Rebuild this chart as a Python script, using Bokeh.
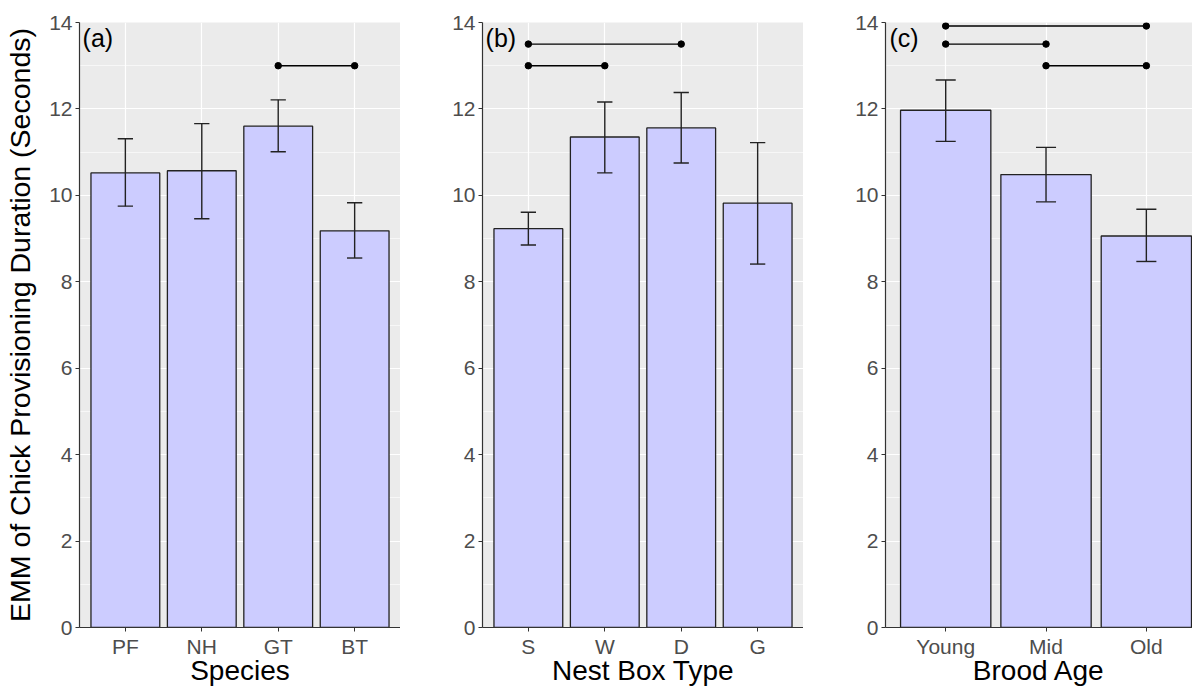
from bokeh.plotting import figure
from bokeh.layouts import row
from bokeh.models import Range1d, FixedTicker, Label, ColumnDataSource
from bokeh.embed import file_html
from bokeh.resources import INLINE

# ---- data ----
species = ["PF", "NH", "GT", "BT"]
species_emm = [10.52, 10.57, 11.60, 9.18]
species_lo = [9.75, 9.46, 11.01, 8.55]
species_hi = [11.31, 11.66, 12.21, 9.83]
species_sig = [("GT", "BT", 13.0)]

nestbox = ["S", "W", "D", "G"]
nestbox_emm = [9.23, 11.35, 11.56, 9.82]
nestbox_lo = [8.85, 10.52, 10.75, 8.41]
nestbox_hi = [9.61, 12.16, 12.38, 11.22]
nestbox_sig = [("S", "W", 13.0), ("S", "D", 13.5)]

brood = ["Young", "Mid", "Old"]
brood_emm = [11.97, 10.48, 9.06]
brood_lo = [11.25, 9.85, 8.47]
brood_hi = [12.67, 11.11, 9.68]
brood_sig = [("Mid", "Old", 13.0), ("Young", "Mid", 13.5), ("Young", "Old", 13.92)]

y_ticks = [0, 2, 4, 6, 8, 10, 12, 14]

FONT = "Liberation Sans"
BAR_FILL = "#CCCCFF"
PANEL_BG = "#EBEBEB"


def make_panel(cats, emm, lo, hi, sig, xlabel, tag, width, left_border, x_end=None, ylabel=None):
    n = len(cats)
    xs = list(range(1, n + 1))
    pos = {c: i + 1 for i, c in enumerate(cats)}
    end = x_end if x_end is not None else n + 0.6
    p = figure(width=width, height=688, x_range=Range1d(0.4, end), y_range=Range1d(0, 14),
               output_backend="svg", toolbar_location=None,
               min_border_left=left_border, min_border_right=0,
               min_border_top=22, min_border_bottom=60)
    p.outline_line_color = None
    p.background_fill_color = PANEL_BG
    p.border_fill_color = "white"

    # grids
    p.xgrid.ticker = FixedTicker(ticks=xs)
    p.ygrid.ticker = FixedTicker(ticks=y_ticks, minor_ticks=[1, 3, 5, 7, 9, 11, 13])
    for g in (p.xgrid, p.ygrid):
        g.grid_line_color = "white"
        g.grid_line_width = 1.2
    p.ygrid.minor_grid_line_color = "white"
    p.ygrid.minor_grid_line_width = 0.6

    # axes
    p.xaxis.ticker = FixedTicker(ticks=xs)
    p.xaxis.major_label_overrides = {x: c for x, c in zip(xs, cats)}
    p.yaxis.ticker = FixedTicker(ticks=y_ticks)
    for ax in (p.xaxis, p.yaxis):
        ax.axis_line_color = "#333333"
        ax.axis_line_width = 1.2
        ax.major_tick_line_color = "#333333"
        ax.major_tick_in = 0
        ax.major_tick_out = 4
        ax.minor_tick_line_color = None
        ax.major_label_text_font = FONT
        ax.major_label_text_font_size = "21px"
        ax.major_label_text_color = "#4D4D4D"
        ax.axis_label_text_font = FONT
        ax.axis_label_text_font_size = "28px"
        ax.axis_label_text_font_style = "normal"
        ax.axis_label_text_color = "black"
    p.xaxis.axis_label = xlabel
    p.xaxis.major_label_standoff = 3
    p.xaxis.axis_label_standoff = -6
    p.yaxis.major_label_standoff = 3
    if ylabel:
        p.yaxis.axis_label = ylabel
        p.yaxis.axis_label_text_font_size = "28.5px"
        p.yaxis.axis_label_standoff = 10

    src = ColumnDataSource(dict(x=xs, top=emm, lo=lo, hi=hi))
    p.vbar(x="x", top="top", width=0.9, bottom=0, source=src,
           fill_color=BAR_FILL, line_color="#222222", line_width=1.3)
    # error bars
    p.segment(x0="x", x1="x", y0="lo", y1="hi", source=src, line_color="#222222", line_width=1.4)
    caps = ColumnDataSource(dict(x0=[x - 0.1 for x in xs], x1=[x + 0.1 for x in xs], lo=lo, hi=hi))
    p.segment(x0="x0", x1="x1", y0="lo", y1="lo", source=caps, line_color="#222222", line_width=1.4)
    p.segment(x0="x0", x1="x1", y0="hi", y1="hi", source=caps, line_color="#222222", line_width=1.4)

    # significance lines
    sx0 = [pos[a] for a, b, y in sig]
    sx1 = [pos[b] for a, b, y in sig]
    sy = [y for a, b, y in sig]
    p.segment(x0=sx0, x1=sx1, y0=sy, y1=sy, line_color="black", line_width=1.4)
    p.scatter(x=sx0 + sx1, y=sy + sy, size=6.5, fill_color="black", line_color="black")

    p.add_layout(Label(x=0.44, y=13.97, text=tag,
                       text_font=FONT, text_font_size="25px", text_color="black",
                       text_baseline="top", text_align="left"))
    return p


pa = make_panel(species, species_emm, species_lo, species_hi, species_sig, "Species", "(a)",
                400, 79, ylabel="EMM of Chick Provisioning Duration (Seconds)")
pb = make_panel(nestbox, nestbox_emm, nestbox_lo, nestbox_hi, nestbox_sig, "Nest Box Type", "(b)",
                403, 82)
pc = make_panel(brood, brood_emm, brood_lo, brood_hi, brood_sig, "Brood Age", "(c)",
                389, 82, x_end=3.46)

layout = row(pa, pb, pc, spacing=0)
open("out.html", "w").write(file_html(layout, INLINE))
